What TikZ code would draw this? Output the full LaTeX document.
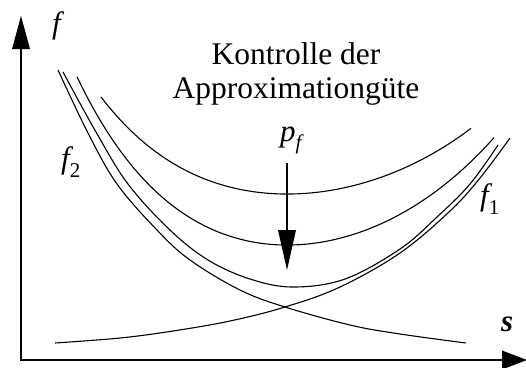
\documentclass[tikz,border=0pt]{standalone}
\usepackage{fontspec}
\setmainfont{Liberation Serif}[ItalicFont={Liberation Serif Italic}, BoldFont={Liberation Serif Bold}, BoldItalicFont={Liberation Serif Bold Italic}]
\newcommand\lsub[1]{\raisebox{-0.28em}{\fontsize{21}{21}\selectfont #1}}
\begin{document}
\begin{tikzpicture}[x=1pt,y=-1pt,
  curve/.style={line width=1.1pt, line join=round},
  axisline/.style={line width=2.8pt, line join=miter},
  lbl/.style={font=\fontsize{31}{31}\selectfont\itshape, inner sep=0pt, anchor=base west},
  title/.style={font=\fontsize{31.5}{34}\selectfont, inner sep=0pt, align=center}]
\useasboundingbox (0,0) rectangle (526,367);
% axes
\coordinate (O) at (21,360);
\coordinate (Ytop) at (21,46);
\coordinate (Xend) at (504,360);
\draw[axisline] (Ytop) -- (O) -- (Xend);
\fill (21,16) -- (12,49) -- (30,49) -- cycle;
\fill (527,360) -- (502,350.5) -- (502,369.5) -- cycle;
% f2 (decreasing)
\draw[curve] plot[smooth, tension=0.6] coordinates {(58,70) (88,133) (117,184) (157,230) (190,260) (240,290) (285,307) (350,325) (400,334) (466,343)};
% f1 (increasing)
\draw[curve] plot[smooth, tension=0.6] coordinates {(55,343) (120,338) (173,331) (230,321) (285,307) (340,287) (400,253) (450,211) (480,178) (510,138)};
% sum curve
\draw[curve] plot[smooth, tension=0.6] coordinates {(63,72) (96,132) (128,184) (170,230) (208,260) (250,279) (293,287) (345,279) (400,249) (437,217) (470,184) (498,145)};
% approximations
\draw[curve] plot[domain=77:494, samples=90, smooth] (\x, {340.3 - 56.8*exp(0.006*(\x-287)) - 38.45*exp(-0.00886*(\x-287))});
\draw[curve] plot[domain=101:471, samples=90, smooth] (\x, {269 - 44.7*exp(0.006*(\x-287)) - 30.26*exp(-0.00886*(\x-287))});
% p_f arrow
\coordinate (pa) at (287,163);
\coordinate (pb) at (287,232);
\draw[line width=1.2pt] (pa) -- (pb);
\fill (287,270) -- (278,230) -- (296,230) -- cycle;
% labels
\node[lbl] (lf) at (52,33) {f};
\node[lbl] (lf2) at (61,168.5) {f\lsub{\upshape 2}};
\node[lbl] (lf1) at (480,205.5) {f\lsub{\upshape 1}};
\node[lbl] (lpf) at (280,141) {p\lsub{\itshape f}};
\node[lbl, font=\fontsize{31}{31}\selectfont\bfseries\itshape] (ls) at (501,331) {s};
\node[title] (ttl) at (296,74) {Kontrolle der\\Approximationgüte};
\end{tikzpicture}
\end{document}
